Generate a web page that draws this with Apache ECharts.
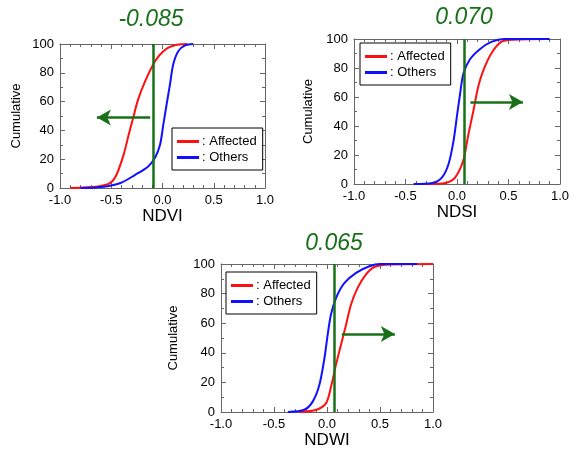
<!DOCTYPE html>
<html>
<head>
<meta charset="utf-8">
<script src="https://cdn.jsdelivr.net/npm/echarts@6/dist/echarts.min.js"></script>
<style>
  html, body { margin: 0; padding: 0; background: #fff; }
  #main { width: 572px; height: 453px; }
</style>
</head>
<body>
<div id="main"></div>
<script>
// 累积分布曲线数据
var ndviAffX = [-0.90, -0.63, -0.51, -0.45, -0.38, -0.33, -0.285, -0.24, -0.17, -0.073, 0.008, 0.105, 0.24];
var ndviAffY = [0, 1, 3.5, 9, 23, 37, 49, 61, 74, 88, 95, 99, 100];
var ndviOthX = [-0.80, -0.59, -0.41, -0.27, -0.14, -0.073, -0.024, 0.008, 0.04, 0.073, 0.105, 0.154, 0.22, 0.30];
var ndviOthY = [0, 0.7, 3.5, 9, 15, 21, 30, 44, 58, 72, 86, 95, 99, 100];

var ndsiAffX = [-0.42, -0.27, -0.113, -0.017, 0.062, 0.11, 0.158, 0.206, 0.254, 0.333, 0.43, 0.55, 0.88];
var ndsiAffY = [0, 0, 0.7, 4.6, 16.5, 34, 50, 67, 78, 90, 98, 99.5, 100];
var ndsiOthX = [-0.42, -0.24, -0.145, -0.081, -0.033, -0.002, 0.03, 0.062, 0.126, 0.222, 0.333, 0.46, 0.9];
var ndsiOthY = [0, 0.7, 4.6, 14, 30, 46, 62, 76, 86, 93, 98, 100, 100];

var ndwiAffX = [-0.26, -0.10, -0.009, 0.038, 0.085, 0.132, 0.18, 0.226, 0.29, 0.368, 0.446, 0.6, 1.0];
var ndwiAffY = [0, 1.5, 6, 17, 32, 45.5, 59, 72.5, 84, 93, 98, 99.7, 100];
var ndwiOthX = [-0.37, -0.214, -0.135, -0.073, -0.025, 0.006, 0.038, 0.085, 0.163, 0.274, 0.40, 0.5, 0.85];
var ndwiOthY = [0, 1.5, 7, 18, 36, 52, 66, 77, 87, 94, 98.5, 100, 100];

// 阈值与箭头
var thresholds = [-0.085, 0.070, 0.065];
var thresholdLabels = ['-0.085', '0.070', '0.065'];
var arrows = [[-0.12, -0.64, 49], [0.13, 0.64, 56.5], [0.14, 0.64, 52.7]];
var xNames = ['NDVI', 'NDSI', 'NDWI'];

var green = '#187018';
var font = 'Liberation Sans, Arial, sans-serif';

function zip(xs, ys) {
    return xs.map(function (x, i) { return [x, ys[i]]; });
}

var grids = [
    { left: 60, top: 44, width: 205, height: 144 },
    { left: 354, top: 39, width: 209, height: 145 },
    { left: 221, top: 264, width: 212, height: 148 }
];
var legendPos = [
    { left: 172, top: 128 },
    { left: 360, top: 43 },
    { left: 226, top: 272 }
];
var titlePos = [[151, 20], [464, 18], [334, 244]];
var yNameGap = [37, 39, 41];

var curves = [
    [zip(ndviAffX, ndviAffY), zip(ndviOthX, ndviOthY)],
    [zip(ndsiAffX, ndsiAffY), zip(ndsiOthX, ndsiOthY)],
    [zip(ndwiAffX, ndwiAffY), zip(ndwiOthX, ndwiOthY)]
];

var xAxes = [], yAxes = [], series = [], legends = [], graphics = [];
var frameColor = '#666';

for (var i = 0; i < 3; i++) {
    var base = {
        gridIndex: i, type: 'value', min: -1, max: 1, interval: 0.5,
        axisLine: { show: true, onZero: false, lineStyle: { color: frameColor, width: 1 } },
        axisTick: { show: true, inside: true, length: 5, lineStyle: { color: frameColor } },
        minorTick: { show: true, splitNumber: 5, length: 3, lineStyle: { color: frameColor } },
        splitLine: { show: false }
    };
    xAxes.push(Object.assign({}, base, {
        position: 'bottom',
        name: xNames[i], nameLocation: 'middle', nameGap: 20,
        nameTextStyle: { fontFamily: font, fontSize: 17, color: '#000', verticalAlign: 'top' },
        axisLabel: { margin: 6, fontFamily: font, fontSize: 13, color: '#000',
            formatter: function (v) { return v.toFixed(1); } }
    }));
    xAxes.push(Object.assign({}, base, { position: 'top', axisLabel: { show: false } }));

    var ybase = {
        gridIndex: i, type: 'value', min: 0, max: 100, interval: 20,
        axisLine: { show: true, onZero: false, lineStyle: { color: frameColor, width: 1 } },
        axisTick: { show: true, inside: true, length: 5, lineStyle: { color: frameColor } },
        minorTick: { show: true, splitNumber: 2, length: 3, lineStyle: { color: frameColor } },
        splitLine: { show: false }
    };
    yAxes.push(Object.assign({}, ybase, {
        position: 'left',
        name: 'Cumulative', nameLocation: 'middle', nameGap: yNameGap[i], nameRotate: 90,
        nameTextStyle: { fontFamily: font, fontSize: 13, color: '#000' },
        axisLabel: { margin: 6, fontFamily: font, fontSize: 13, color: '#000' }
    }));
    yAxes.push(Object.assign({}, ybase, { position: 'right', axisLabel: { show: false } }));

    var ax = 2 * i;
    series.push({
        name: 'Affected', type: 'line', xAxisIndex: ax, yAxisIndex: ax,
        data: curves[i][0], smooth: 0.3, showSymbol: false,
        lineStyle: { color: '#ff1010', width: 2 }, itemStyle: { color: '#ff1010' },
        z: 3
    });
    series.push({
        name: 'Others', type: 'line', xAxisIndex: ax, yAxisIndex: ax,
        data: curves[i][1], smooth: 0.3, showSymbol: false,
        lineStyle: { color: '#1010ff', width: 2 }, itemStyle: { color: '#1010ff' },
        z: 3,
        markLine: {
            silent: true, symbol: ['none', 'none'], label: { show: false },
            lineStyle: { color: green, width: 2.5, type: 'solid' },
            data: [{ xAxis: thresholds[i] }]
        }
    });
    // 箭头
    series.push({
        type: 'line', xAxisIndex: ax, yAxisIndex: ax, data: [], z: 4,
        markLine: {
            silent: true, symbol: ['none', 'arrow'], symbolSize: [12, 14], label: { show: false },
            lineStyle: { color: green, width: 2.5, type: 'solid' },
            data: [[{ coord: [arrows[i][0], arrows[i][2]] }, { coord: [arrows[i][1], arrows[i][2]] }]]
        }
    });

    legends.push({
        left: legendPos[i].left, top: legendPos[i].top,
        orient: 'vertical', itemGap: 3, padding: [7, 6, 6, 5],
        borderColor: '#000', borderWidth: 1, backgroundColor: '#fff',
        icon: 'rect', itemWidth: 22, itemHeight: 3,
        selectedMode: false,
        data: ['Affected', 'Others'],
        formatter: function (name) { return ': ' + name; },
        textStyle: { fontFamily: font, fontSize: 13, color: '#000', padding: [0, 0, 0, -2] }
    });

    graphics.push({
        type: 'text', x: titlePos[i][0], y: titlePos[i][1],
        style: {
            text: thresholdLabels[i], fill: green,
            font: 'italic 23px ' + font,
            textAlign: 'center', textVerticalAlign: 'middle'
        }
    });
}

var myChart = echarts.init(document.getElementById('main'), null, { renderer: 'canvas' });
var option = {
    backgroundColor: '#fff',
    animation: false,
    grid: grids,
    xAxis: xAxes,
    yAxis: yAxes,
    legend: legends,
    series: series,
    graphic: graphics
};
myChart.setOption(option);
</script>
</body>
</html>
